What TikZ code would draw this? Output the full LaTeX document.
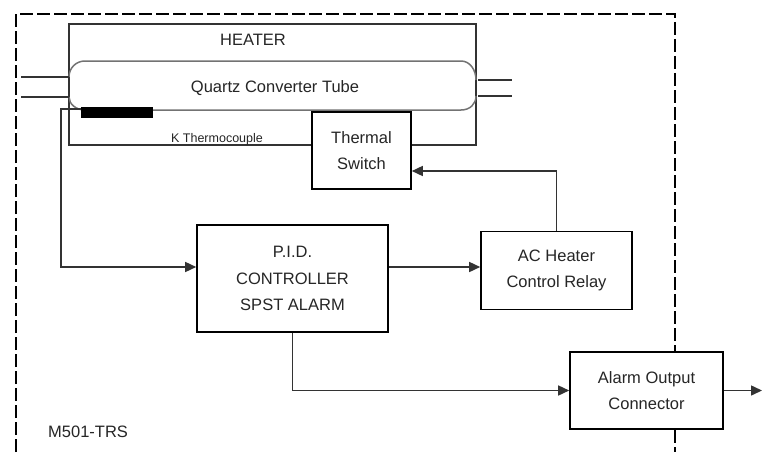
\documentclass[tikz,border=0pt]{standalone}
\usepackage{fontspec}
\setmainfont{Liberation Sans}
\usetikzlibrary{arrows.meta}
\begin{document}
\begin{tikzpicture}[x=1pt,y=-1pt,
  box/.style={draw=black,line width=1.6pt,fill=white,align=center,inner sep=0pt,
    font=\fontsize{16.5}{26.5}\selectfont,text=black!85},
  conn/.style={draw=black!80,line width=1.5pt},
  arr/.style={conn,-{Triangle[length=11pt,width=10pt]}},
  frame/.style={draw=black,line width=1.5pt,dash pattern=on 13pt off 4pt},
  tube/.style={draw=black!55,line width=1.5pt},
  lbl/.style={font=\fontsize{16.5}{20}\selectfont,text=black!85,inner sep=0pt}]
\useasboundingbox (0,0) rectangle (762,452);
\fill[white] (0,0) rectangle (762,452);
% dashed enclosure
\draw[frame] (16,452) -- (16,14) -- (675,14) -- (675,452);
% heater
\draw[conn,line width=1.6pt] (69,24) rectangle (476,145);
\node[lbl] (heater) at (253,40) {HEATER};
% quartz tube
\draw[tube] (69,77) .. controls (69,68) and (76,61) .. (85,61) -- (461,61)
  .. controls (470,61) and (476,70) .. (476,80);
\draw[tube] (476,96) .. controls (476,104) and (470,110) .. (461,110) -- (85,110)
  .. controls (76,110) and (69,104) .. (69,97);
\draw[conn] (21,77) -- (69,77);
\draw[conn] (21,97) -- (69,97);
\draw[conn] (478,80) -- (512,80);
\draw[conn] (478,96) -- (512,96);
\node[lbl] (tubelbl) at (275,88) {Quartz Converter Tube};
% thermocouple
\node[fill=black,minimum width=72pt,minimum height=11pt,inner sep=0pt] (tcb) at (117,112.5) {};
\node[lbl,font=\fontsize{12.5}{14}\selectfont] (tclbl) at (217,139) {K Thermocouple};
% boxes
\node[box,minimum width=99pt,minimum height=77pt] (thermal) at (361.5,150.5) {Thermal\\Switch};
\node[box,minimum width=191pt,minimum height=107pt] (pid) at (292.5,278.5) {P.I.D.\\CONTROLLER\\SPST ALARM};
\node[box,minimum width=151pt,minimum height=78pt] (relay) at (556.5,270.5) {AC Heater\\Control Relay};
\node[box,minimum width=153pt,minimum height=77pt] (alarm) at (646.5,390.5) {Alarm Output\\Connector};
\node[lbl,anchor=west] (model) at (48,432) {M501-TRS};
% connectors
\coordinate (tcw) at (81,109);
\coordinate (c1) at (61,267);
\coordinate (c2) at (557,171);
\coordinate (out) at (762,390.5);
\draw[arr] (tcw) -| (c1) -- (c1 -| pid.west);
\draw[arr] (pid.east |- c1) -- (relay.west |- c1);
\draw[arr] (relay.north) -- (relay.north |- c2) -- (thermal.east |- c2);
\draw[arr] (pid.south) |- (alarm.west);
\draw[arr] (alarm.east) -- (out);
\end{tikzpicture}
\end{document}
